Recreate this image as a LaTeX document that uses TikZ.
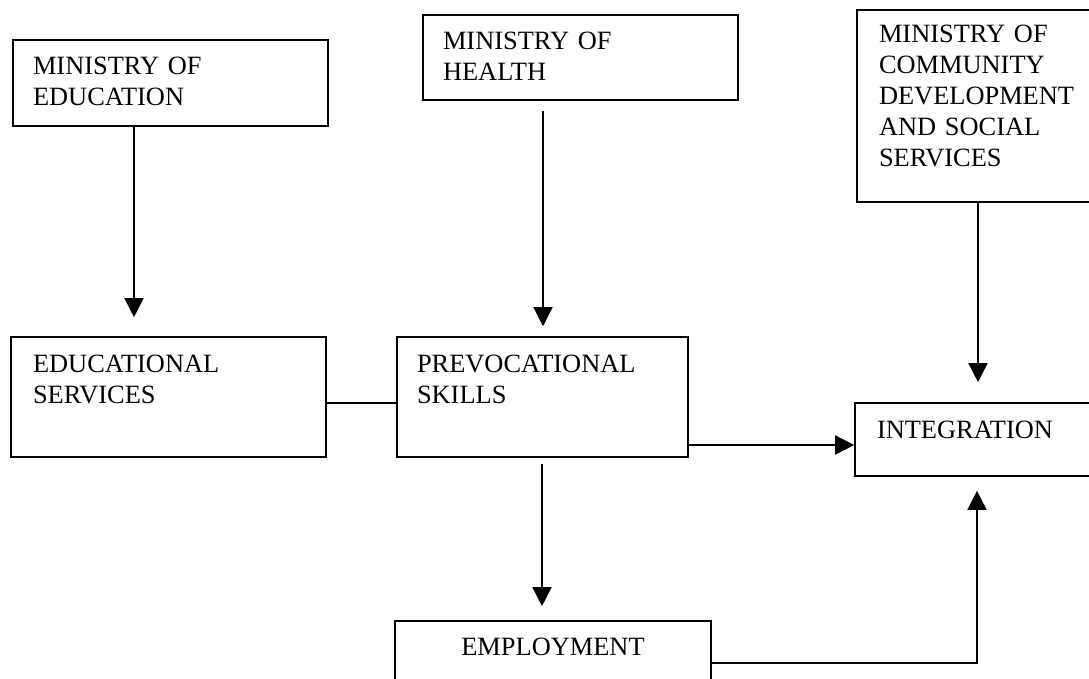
\documentclass[tikz,border=0pt]{standalone}
\usepackage{fontspec}
\setmainfont{Liberation Serif}
\usetikzlibrary{positioning,arrows.meta}

\begin{document}
\begin{tikzpicture}[x=1pt,y=1pt,on grid,
		box/.style={draw,rectangle,line width=1.6pt,align=left,inner xsep=20pt,inner ysep=0pt,text height=35pt,font=\fontsize{26.4}{31}\selectfont},
		link/.style={line width=1.5pt},
		arrow/.style={link,-{Triangle[length=19pt,width=19pt]}}]
		\useasboundingbox (0,0) rectangle (1089,-679);
		
		\node[box,text width=275pt,text depth=51pt] (MinEducation) at (170.5,-83) {MINISTRY OF\\EDUCATION};
		\node[box,text width=275pt,text depth=50pt] (MinHealth) [right=410pt of MinEducation, yshift=25.5pt] {MINISTRY OF\\HEALTH};
		\node[box,inner xsep=22pt,text width=219pt,text height=33pt,text depth=159pt] (MinCommunity) [right=408pt of MinHealth, yshift=-48.5pt] {MINISTRY OF\\COMMUNITY\\DEVELOPMENT\\AND SOCIAL\\SERVICES};
		\node[box,inner xsep=22pt,text width=271pt,text depth=85pt] (EduServices) [below=314pt of MinEducation, xshift=-2pt] {EDUCATIONAL\\SERVICES};
		\node[box,text width=251pt,text depth=85pt] (Prevocational) [right=374pt of EduServices] {PREVOCATIONAL\\SKILLS};
		\node[box,inner xsep=22pt,text width=221pt,text depth=38pt] (Integration) [below=333.5pt of MinCommunity, xshift=-1pt] {INTEGRATION};
		\node[box,align=center,text width=276pt,text height=34pt,text depth=55pt] (Employment) [below=268.5pt of Prevocational, xshift=10.5pt] {EMPLOYMENT};
		
		\draw[arrow,shorten >=19pt] ([xshift=-36.5pt]MinEducation.south) -- ([xshift=-34.5pt]EduServices.north);
		\draw[arrow,shorten <=10pt,shorten >=10pt] ([xshift=-37.5pt]MinHealth.south) -- ([xshift=0.5pt]Prevocational.north);
		\draw[arrow,shorten >=20pt] ([xshift=-10.5pt]MinCommunity.south) -- ([xshift=-9.5pt]Integration.north);
		\draw[link,line width=2.2pt] ([yshift=-6pt]EduServices.east) -- ([yshift=-6pt]Prevocational.west);
		\draw[arrow] ([yshift=-48pt]Prevocational.east) -- ([yshift=-48pt]Prevocational.east -| Integration.west);
		\draw[arrow,shorten <=6pt,shorten >=14pt] ([xshift=-0.5pt]Prevocational.south) -- ([xshift=-11pt]Employment.north);
		\draw[arrow,shorten >=14pt] ([yshift=2.5pt]Employment.east) -| ([xshift=-10.5pt]Integration.south);
		
\end{tikzpicture}
\end{document}
